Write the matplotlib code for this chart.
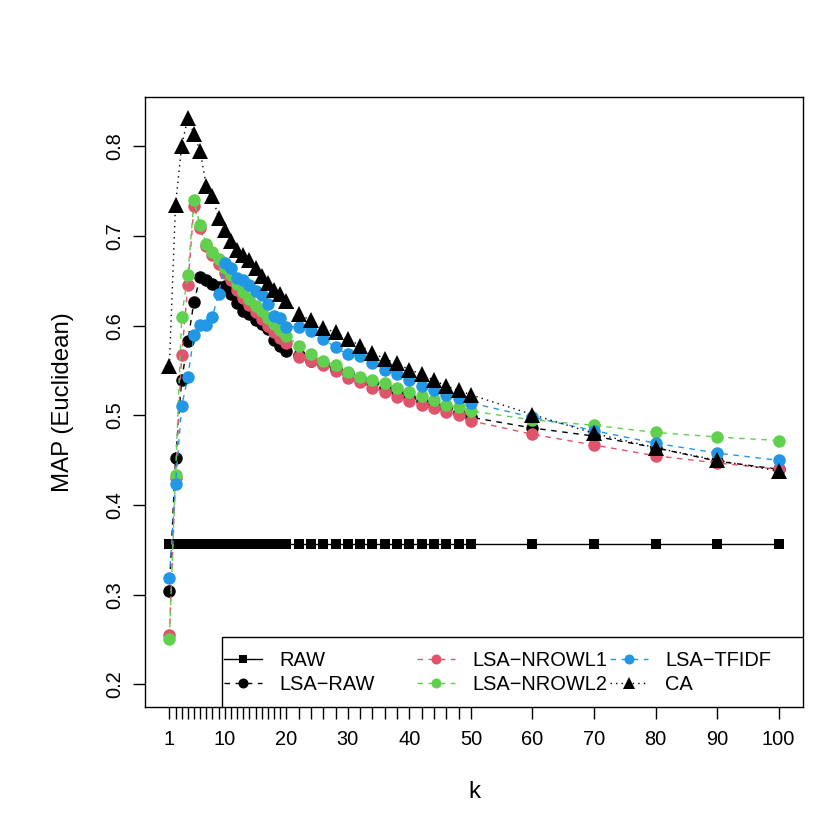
import matplotlib
matplotlib.use("Agg")
import matplotlib.pyplot as plt
from matplotlib.legend import Legend
from matplotlib.patches import Rectangle

plt.rcParams["font.family"] = ["Liberation Sans", "DejaVu Sans"]

# number of dimensions k
k = list(range(1, 21)) + list(range(22, 51, 2)) + [60, 70, 80, 90, 100]

raw = [0.357] * len(k)

lsa_raw = [0.304, 0.452, 0.539, 0.583, 0.627, 0.654, 0.651, 0.647, 0.643, 0.644,
           0.636, 0.625, 0.617, 0.613, 0.607, 0.602, 0.596, 0.584, 0.578, 0.572,
           0.567, 0.561, 0.557, 0.552, 0.547, 0.541, 0.536, 0.531, 0.526, 0.521,
           0.516, 0.512, 0.508, 0.503, 0.498,
           0.486, 0.477, 0.464, 0.449, 0.440]

lsa_nrowl1 = [0.255, 0.430, 0.567, 0.645, 0.734, 0.709, 0.689, 0.679, 0.669, 0.659,
              0.651, 0.640, 0.631, 0.623, 0.615, 0.608, 0.600, 0.593, 0.586, 0.581,
              0.565, 0.561, 0.556, 0.550, 0.542, 0.537, 0.531, 0.526, 0.521, 0.516,
              0.512, 0.508, 0.504, 0.500, 0.494,
              0.479, 0.467, 0.455, 0.447, 0.440]

lsa_nrowl2 = [0.251, 0.434, 0.610, 0.657, 0.740, 0.712, 0.691, 0.682, 0.674, 0.665,
              0.657, 0.647, 0.638, 0.630, 0.622, 0.616, 0.609, 0.602, 0.595, 0.589,
              0.578, 0.568, 0.561, 0.556, 0.549, 0.543, 0.539, 0.536, 0.531, 0.526,
              0.522, 0.517, 0.512, 0.509, 0.505,
              0.495, 0.489, 0.481, 0.476, 0.472]

lsa_tfidf = [0.319, 0.424, 0.510, 0.543, 0.590, 0.601, 0.601, 0.610, 0.636, 0.670,
             0.664, 0.653, 0.651, 0.646, 0.639, 0.634, 0.624, 0.611, 0.609, 0.599,
             0.599, 0.594, 0.585, 0.576, 0.568, 0.566, 0.559, 0.551, 0.546, 0.539,
             0.533, 0.528, 0.523, 0.519, 0.514,
             0.498, 0.483, 0.469, 0.458, 0.450]

ca = [0.555, 0.735, 0.801, 0.832, 0.814, 0.795, 0.756, 0.745, 0.720, 0.707,
      0.695, 0.685, 0.679, 0.673, 0.665, 0.655, 0.648, 0.640, 0.635, 0.628,
      0.613, 0.606, 0.597, 0.593, 0.585, 0.578, 0.570, 0.563, 0.558, 0.551,
      0.546, 0.539, 0.533, 0.528, 0.523,
      0.501, 0.480, 0.464, 0.450, 0.438]

x_labelled = [1, 10, 20, 30, 40, 50, 60, 70, 80, 90, 100]
y_ticks = [0.2, 0.3, 0.4, 0.5, 0.6, 0.7, 0.8]

DASH = (0, (4, 4))
DOT = (0, (1, 3))

series = [
    ("RAW", raw, "black", "s", "-", 7.0),
    ("LSA\u2212RAW", lsa_raw, "black", "o", DASH, 9.0),
    ("LSA\u2212NROWL1", lsa_nrowl1, "#DF536B", "o", DASH, 9.0),
    ("LSA\u2212NROWL2", lsa_nrowl2, "#61D04F", "o", DASH, 9.0),
    ("LSA\u2212TFIDF", lsa_tfidf, "#2297E6", "o", DASH, 9.0),
    ("CA", ca, "black", "^", DOT, 11.0),
]

fig = plt.figure(figsize=(8.3, 8.3), dpi=100)
ax = fig.add_axes([145 / 830, 1 - 707 / 830, 658 / 830, 610 / 830])

handles = []
for name, vals, col, mk, ls, ms in series:
    (h,) = ax.plot(k, vals, color=col, marker=mk, linestyle=ls, linewidth=1.0,
                   markersize=ms, markeredgewidth=0, label=name)
    handles.append(h)

ax.set_xlim(1 - 0.04 * 99, 100 + 0.04 * 99)
ax.set_ylim(0.2 - 0.04 * 0.63, 0.83 + 0.04 * 0.63)

ax.set_xticks(k)
ax.set_xticklabels([str(v) if v in x_labelled else "" for v in k])
ax.set_yticks(y_ticks)
ax.set_yticklabels([f"{v:.1f}" for v in y_ticks], rotation=90, va="center")
ax.tick_params(direction="out", length=8.6, width=1.0, labelsize=14.4, pad=6)
ax.tick_params(axis="x", pad=8)
for sp in ax.spines.values():
    sp.set_linewidth(1.0)
    sp.set_color("black")

ax.set_xlabel("k", fontsize=17.3, labelpad=23)
ax.set_ylabel("MAP (Euclidean)", fontsize=17.3, labelpad=23)

# legend frame, R style with three equal columns
frame = Rectangle((77 / 658, 0), 1 - 77 / 658, 70 / 610, transform=ax.transAxes,
                  facecolor="white", edgecolor="black", linewidth=1.0, zorder=5)
ax.add_patch(frame)
col_x = [79 / 658, 272 / 658, 465 / 658]
for i, cx in enumerate(col_x):
    hs = handles[2 * i:2 * i + 2]
    leg = Legend(ax, hs, [h.get_label() for h in hs], loc="center left",
                 bbox_to_anchor=(cx, 35 / 610), frameon=False, fontsize=14.4,
                 handlelength=1.9, handletextpad=0.85, labelspacing=0.25,
                 borderpad=0, borderaxespad=0, numpoints=1, markerscale=0.8)
    leg.set_zorder(6)
    ax.add_artist(leg)

fig.savefig("out.png", dpi=100)
